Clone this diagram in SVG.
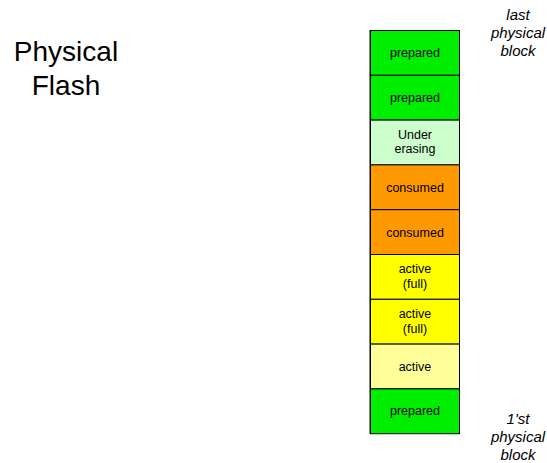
<svg xmlns="http://www.w3.org/2000/svg" width="547" height="463" viewBox="0 0 547 463">
<style>
.blk{stroke:#000;stroke-width:1}
.t{font-family:"Liberation Sans",Arial,sans-serif;font-size:12.5px;text-anchor:middle;fill:#000}
.side{font-family:"Liberation Sans",Arial,sans-serif;font-size:15px;font-style:italic;text-anchor:middle;fill:#000}
.title{font-family:"Liberation Sans",Arial,sans-serif;font-size:28px;text-anchor:middle;fill:#000}
.g{fill:#00EE00}.e{fill:#CCFFCC}.o{fill:#FF9900}.y{fill:#FFFF00}.ly{fill:#FFFF99}
</style>
<rect width="547" height="463" fill="#fff"/>
<text class="title" x="66" y="61">Physical</text>
<text class="title" x="66" y="95">Flash</text>
<g id="label-last"><text class="side" x="518" y="20">last</text><text class="side" x="518" y="38">physical</text><text class="side" x="518" y="56">block</text></g>
<g id="label-first"><text class="side" x="518" y="424">1'st</text><text class="side" x="518" y="442">physical</text><text class="side" x="518" y="460">block</text></g>
<g id="b1"><rect class="blk g" x="370.5" y="30.5" width="89" height="44.8"/><text class="t" x="415" y="57">prepared</text></g>
<g id="b2"><rect class="blk g" x="370.5" y="75.3" width="89" height="44.8"/><text class="t" x="415" y="101.5">prepared</text></g>
<g id="b3"><rect class="blk e" x="370.5" y="120.1" width="89" height="44.8"/><text class="t" x="415" y="138.5">Under</text><text class="t" x="415" y="153">erasing</text></g>
<g id="b4"><rect class="blk o" x="370.5" y="164.9" width="89" height="44.8"/><text class="t" x="415" y="191.5">consumed</text></g>
<g id="b5"><rect class="blk o" x="370.5" y="209.7" width="89" height="44.8"/><text class="t" x="415" y="236.5">consumed</text></g>
<g id="b6"><rect class="blk y" x="370.5" y="254.5" width="89" height="44.8"/><text class="t" x="415" y="273">active</text><text class="t" x="415" y="288">(full)</text></g>
<g id="b7"><rect class="blk y" x="370.5" y="299.3" width="89" height="44.8"/><text class="t" x="415" y="318">active</text><text class="t" x="415" y="333">(full)</text></g>
<g id="b8"><rect class="blk ly" x="370.5" y="344.1" width="89" height="44.8"/><text class="t" x="415" y="370.5">active</text></g>
<g id="b9"><rect class="blk g" x="370.5" y="388.9" width="89" height="44.8"/><text class="t" x="415" y="415">prepared</text></g>
<line x1="369.5" y1="30" x2="369.5" y2="434" stroke="#808080" stroke-width="1"/>
<g id="connectors"></g>
</svg>
